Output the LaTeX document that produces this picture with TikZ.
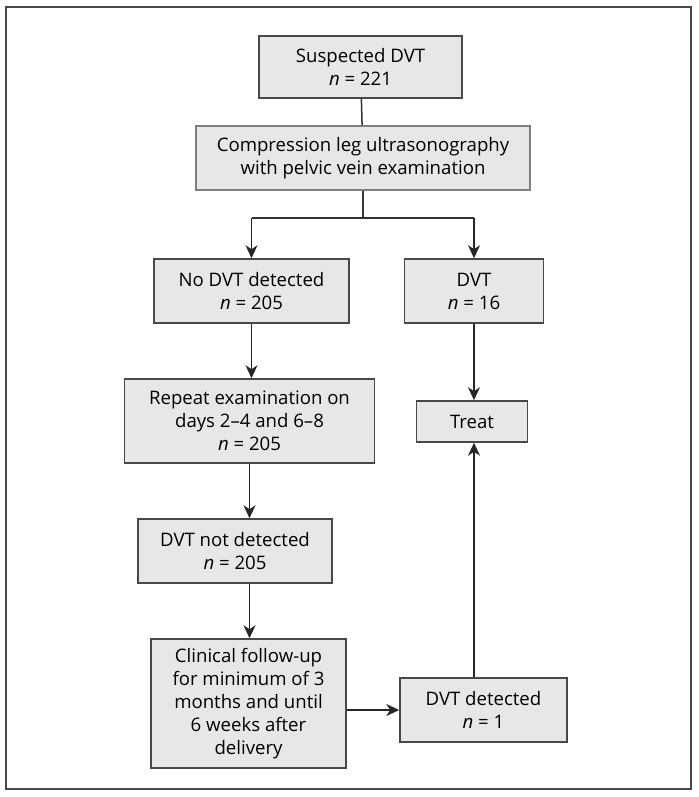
\documentclass[tikz,border=0pt]{standalone}
\usepackage{fontspec}
\setmainfont{Open Sans}
\usetikzlibrary{arrows.meta, positioning, calc}
\definecolor{boxfill}{RGB}{230,231,232}
\definecolor{boxline}{RGB}{72,72,74}
\tikzset{
    flowbox/.style={
           rectangle,
           draw=boxline, line width=0.75pt,
           fill=boxfill,
           inner sep=2pt,
           align=center,
           font=\fontsize{9.3}{11.5}\selectfont,
           },
    boxsize/.style 2 args={minimum width=#1*0.5pt, minimum height=#2*0.5pt},
    flow/.style={-{Stealth[length=6.5pt, width=6pt, inset=2pt]}, draw=black!85, line width=0.75pt},
    link/.style={draw=black!80, line width=0.75pt},
}
\newcommand{\nval}[1]{\textit{n} = #1}

\begin{document}
\begin{tikzpicture}[x=0.5pt, y=-0.5pt]
    \useasboundingbox (0,0) rectangle (698,797);
    \draw[boxline, line width=0.75pt] (6,7) rectangle (691,789);
    % boxes, centres in pixels of the reference
    \node[flowbox, boxsize={203}{62}]                      (susp)   at (360.5, 67)  {Suspected DVT\\\nval{221}};
    \node[flowbox, boxsize={334}{64}, draw=boxline!70]     (comp)   at (363, 158)   {Compression leg ultrasonography\\with pelvic vein examination};
    \node[flowbox, boxsize={195}{64}]                      (nodvt)  at (251.5, 291) {No DVT detected\\\nval{205}};
    \node[flowbox, boxsize={139}{64}]                      (dvt)    at (474, 291)   {DVT\\\nval{16}};
    \node[flowbox, boxsize={250}{84}]                      (rep)    at (249.5, 421) {Repeat examination on\\days 2--4 and 6--8\\\nval{205}};
    \node[flowbox, boxsize={111}{41}]                      (treat)  at (472, 421.5) {Treat};
    \node[flowbox, boxsize={194}{64}]                      (notdet) at (235, 551)   {DVT not detected\\\nval{205}};
    \node[flowbox, boxsize={195}{129}]                     (clin)   at (248.5, 703.5) {Clinical follow-up\\for minimum of 3\\months and until\\6 weeks after\\delivery};
    \node[flowbox, boxsize={167}{64}]                      (det)    at (483.5, 710) {DVT detected\\\nval{1}};
    \coordinate (split) at (363, 218);
    % connectors
    \draw[link] (susp) -- (comp);
    \draw[link] (comp.south) -- (split);
    \draw[link] (nodvt.north |- split) -- (dvt.north |- split);
    \draw[flow] (nodvt.north |- split) -- (nodvt.north);
    \draw[flow] (dvt.north |- split) -- (dvt.north);
    \draw[flow] (dvt.south) -- (dvt.south |- treat.north);
    \draw[flow] (nodvt.south) -- (nodvt.south |- rep.north);
    \draw[flow] (rep.south) -- (rep.south |- notdet.north);
    \draw[flow] (rep.south |- notdet.south) -- (rep.south |- clin.north);
    \draw[flow] (clin.east |- det.west) -- (det.west);
    \draw[flow] (det.north -| dvt.south) -- (dvt.south |- treat.south);
\end{tikzpicture}
\end{document}
